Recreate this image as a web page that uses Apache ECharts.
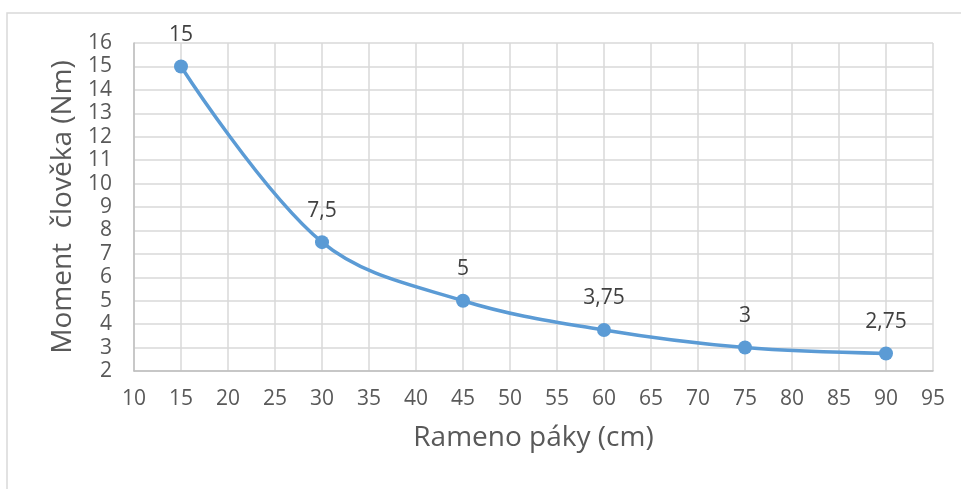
<!DOCTYPE html>
<html>
<head>
<meta charset="utf-8">
<script src="https://cdn.jsdelivr.net/npm/echarts@6/dist/echarts.min.js"></script>
<style>
  html, body { margin: 0; padding: 0; background: #fff; }
  #chart { width: 961px; height: 489px; }
</style>
</head>
<body>
<div id="chart"></div>
<script>
// Lever arm length (cm) and the human moment needed (Nm)
const ramenoPaky = [15, 30, 45, 60, 75, 90];
const moment = [15, 7.5, 5, 3.75, 3, 2.75];

const FONT = 'Open Sans';
const TEXT = '#595959';
const GRIDLINE = '#d9d9d9';

const chart = echarts.init(document.getElementById('chart'));
chart.setOption({
  animation: false,
  backgroundColor: '#fff',
  textStyle: { fontFamily: FONT },
  graphic: [{
    type: 'rect',
    shape: { x: 7, y: 13, width: 1000, height: 600 },
    style: { fill: 'none', stroke: '#d9d9d9', lineWidth: 1.5 },
    silent: true
  }],
  grid: { left: 134, top: 43, width: 799, height: 328, containLabel: false },
  xAxis: {
    type: 'value',
    min: 10, max: 95, interval: 5,
    name: 'Rameno páky (cm)',
    nameLocation: 'middle',
    nameGap: 53,
    nameTextStyle: { fontSize: 28, color: TEXT, fontFamily: FONT },
    axisLine: { show: true, lineStyle: { color: '#bfbfbf', width: 1.5 } },
    axisTick: { show: false },
    axisLabel: { fontSize: 21, color: TEXT, margin: 18, fontFamily: FONT },
    splitLine: { show: true, lineStyle: { color: GRIDLINE, width: 1.5 } }
  },
  yAxis: {
    type: 'value',
    min: 2, max: 16, interval: 1,
    name: 'Moment  člověka (Nm)',
    nameLocation: 'middle',
    nameRotate: 90,
    nameGap: 57,
    nameTextStyle: { fontSize: 28, color: TEXT, fontFamily: FONT },
    axisLine: { show: true, lineStyle: { color: '#bfbfbf', width: 1.5 } },
    axisTick: { show: false },
    axisLabel: { fontSize: 21, color: TEXT, margin: 22, fontFamily: FONT },
    splitLine: { show: true, lineStyle: { color: GRIDLINE, width: 1.5 } }
  },
  series: [{
    type: 'line',
    data: ramenoPaky.map((x, i) => [x, moment[i]]),
    smooth: 0.35,
    symbol: 'circle',
    symbolSize: 14,
    lineStyle: { color: '#5b9bd5', width: 3.5 },
    itemStyle: { color: '#5b9bd5' },
    label: {
      show: true,
      position: 'top',
      distance: 14,
      fontSize: 21,
      color: '#404040',
      fontFamily: FONT,
      formatter: p => String(p.value[1]).replace('.', ',')
    }
  }]
});
</script>
</body>
</html>
